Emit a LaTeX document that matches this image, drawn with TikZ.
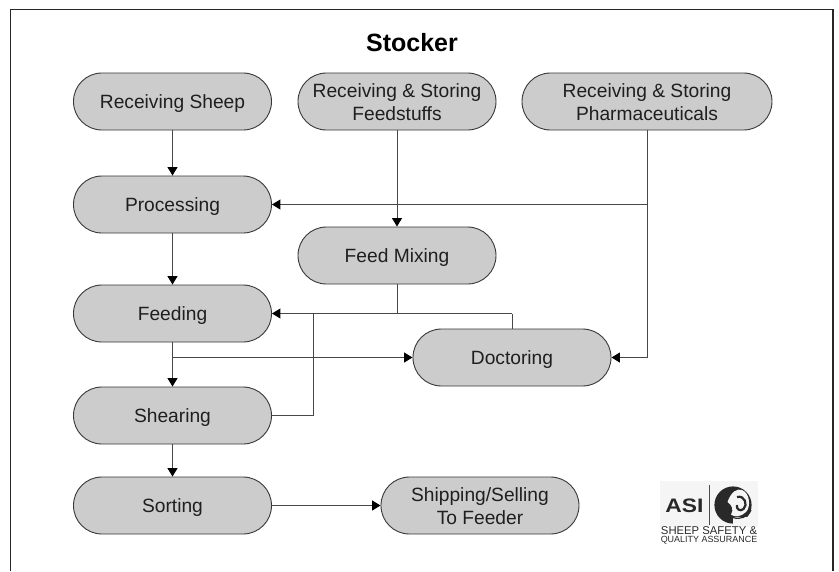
\documentclass[tikz,border=0pt]{standalone}
\usepackage{fontspec}
\usepackage{graphicx}
\setmainfont{Liberation Sans}
\usetikzlibrary{arrows.meta,calc}
\definecolor{boxfill}{gray}{0.80}
\definecolor{boxline}{gray}{0.22}
\definecolor{logodark}{gray}{0.16}
\definecolor{logobg}{gray}{0.96}
\newcommand{\boxtext}[1]{\raisebox{0pt}[\dimexpr\height+5.2pt\relax]{\begin{tabular}{@{}c@{}}#1\end{tabular}}}
\tikzset{
  flowbox/.style={draw=boxline,fill=boxfill,line width=0.9pt,rounded corners=28.4pt,minimum width=198pt,minimum height=57pt,inner sep=0pt,font=\fontsize{19.2}{23.4}\selectfont,text=black!88},
  link/.style={draw=black!72,line width=1pt},
  arrowlink/.style={link,-{Triangle[length=8.5pt,width=10pt,color=black]}}
}
\begin{document}
\begin{tikzpicture}[x=1pt,y=-1pt]
\useasboundingbox (0,0) rectangle (839,571);
\fill[white] (0,0) rectangle (839,571);
\draw[black!85,line width=1.4pt] (10.5,571) -- (10.5,9.5) -- (833,9.5) -- (833,571);
\node[font=\bfseries\fontsize{25}{28}\selectfont] (title) at (412,43) {Stocker};
\node[flowbox] (sheep) at (172.5,101.5) {\boxtext{Receiving Sheep}};
\node[flowbox] (feedstuffs) at (397,101.5) {\boxtext{Receiving \& Storing\\Feedstuffs}};
\node[flowbox,minimum width=250pt] (pharma) at (647,101.5) {\boxtext{Receiving \& Storing\\Pharmaceuticals}};
\node[flowbox] (processing) at (172.5,204.5) {\boxtext{Processing}};
\node[flowbox] (mixing) at (397,255.5) {\boxtext{Feed Mixing}};
\node[flowbox] (feeding) at (172.5,313.5) {\boxtext{Feeding}};
\node[flowbox] (doctoring) at (512,357.5) {\boxtext{Doctoring}};
\node[flowbox] (shearing) at (172.5,415.5) {\boxtext{Shearing}};
\node[flowbox] (sorting) at (172.5,505.5) {\boxtext{Sorting}};
\node[flowbox] (shipping) at (480,505.5) {\boxtext{Shipping/Selling\\To Feeder}};
\coordinate (pb) at (pharma.south |- processing.east);
\coordinate (pd) at (pharma.south |- doctoring.east);
\coordinate (mf) at (mixing.south |- feeding.east);
\coordinate (df) at (doctoring.north |- feeding.east);
\coordinate (sf) at (313,313.5);
\coordinate (fd) at ($(feeding.south)!0.5!(shearing.north)+(0,-7)$);
\draw[arrowlink] (sheep) -- (processing);
\draw[arrowlink] (processing) -- (feeding);
\draw[arrowlink] (feeding) -- (shearing);
\draw[arrowlink] (shearing) -- (sorting);
\draw[arrowlink] (feedstuffs) -- (mixing);
\draw[arrowlink] (pharma.south) -- (pd) -- (doctoring.east);
\draw[arrowlink] (pb) -- (processing.east);
\draw[link] (mixing.south) -- (mf);
\draw[arrowlink] (df) -- (feeding.east);
\draw[link] (doctoring.north) -- (df);
\draw[link] (shearing.east) -- (sf |- shearing.east) -- (sf);
\draw[arrowlink] (fd) -- (fd -| doctoring.west);
\draw[arrowlink] (sorting) -- (shipping);
% logo
\fill[logobg] (660,481) rectangle (758,527);
\node[font=\bfseries\fontsize{19.5}{20}\selectfont,text=logodark,inner sep=0pt] (asi) at (684.5,506) {\scalebox{1.17}[1]{ASI}};
\draw[black!70,line width=0.7pt] (709.5,485) -- (709.5,525);
\fill[logodark] (733,505) circle (18.6);
\fill[logobg] (733,516.5) -- (733,526) -- (753,526) -- (753,516.5) -- cycle;
\fill[logobg] (727.5,502) .. controls (731,492) and (737,488) .. (742,490)
  .. controls (750,493) and (751,507) .. (746,512)
  .. controls (741,517) and (734,517.5) .. (731,514.5)
  .. controls (734,510) and (732,505) .. cycle;
\draw[logodark,line width=2.2pt] (737,497) .. controls (745,495) and (748,505) .. (743.5,509)
  .. controls (740,512) and (736,509) .. (737,505);
\draw[logodark,line width=1.2pt] (733,517.5) .. controls (740,520) and (748,517) .. (751,510);
\node[font=\fontsize{11.3}{11}\selectfont,text=logodark,inner sep=0pt] (logotop) at (709,531) {SHEEP SAFETY \&};
\node[font=\fontsize{8.95}{9}\selectfont,text=logodark,inner sep=0pt] (logobot) at (709,540.5) {QUALITY ASSURANCE};
\end{tikzpicture}
\end{document}
